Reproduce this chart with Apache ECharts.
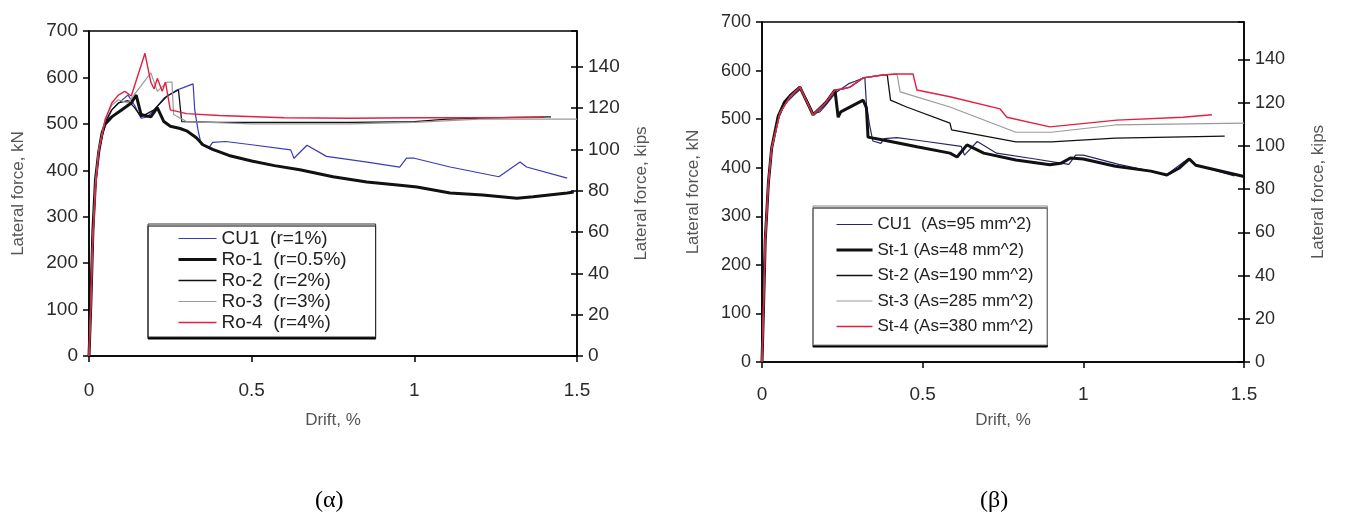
<!DOCTYPE html>
<html><head><meta charset="utf-8">
<script src="https://cdn.jsdelivr.net/npm/echarts@6/dist/echarts.min.js"></script>
<style>html,body{margin:0;padding:0;background:#fff}#c{width:1346px;height:517px}</style>
</head><body><div id="c"></div>
<script>
// ---------- data (drift %, lateral force kN) ----------
const xTicks = [0, 0.5, 1, 1.5];
const kNTicks = [0, 100, 200, 300, 400, 500, 600, 700];
const kipsTicks = [0, 20, 40, 60, 80, 100, 120, 140];
const KN_PER_KIP = 4.4482;

const namesA = ['CU1  (r=1%)', 'Ro-1  (r=0.5%)', 'Ro-2  (r=2%)', 'Ro-3  (r=3%)', 'Ro-4  (r=4%)'];
const namesB = ['CU1  (As=95 mm^2)', 'St-1 (As=48 mm^2)', 'St-2 (As=190 mm^2)', 'St-3 (As=285 mm^2)', 'St-4 (As=380 mm^2)'];

const cu1 = [[0,0],[0.005,120],[0.01,250],[0.02,370],[0.03,440],[0.05,500],[0.07,530],[0.1,550],[0.12,562],[0.14,540],[0.16,512],[0.18,515],[0.2,530],[0.23,555],[0.27,573],[0.29,578],[0.32,586],[0.325,530],[0.335,487],[0.345,455],[0.37,450],[0.38,460],[0.42,462],[0.5,455],[0.62,444],[0.63,426],[0.67,454],[0.73,430],[0.85,418],[0.955,407],[0.976,426],[1.0,426],[1.11,407],[1.26,386],[1.325,418],[1.345,407],[1.47,383]];
const ro1 = [[0,0],[0.006,120],[0.012,270],[0.02,380],[0.03,440],[0.04,480],[0.05,500],[0.07,515],[0.1,530],[0.13,545],[0.145,562],[0.16,520],[0.19,515],[0.21,535],[0.23,505],[0.25,495],[0.28,490],[0.3,485],[0.33,470],[0.35,455],[0.38,445],[0.43,432],[0.5,420],[0.57,410],[0.648,401],[0.75,386],[0.854,375],[0.956,368],[1.008,364],[1.11,351],[1.21,347],[1.315,340],[1.365,343],[1.47,351],[1.49,353]];
const ro2 = [[0,0],[0.006,120],[0.012,260],[0.02,370],[0.03,440],[0.05,505],[0.07,530],[0.09,545],[0.12,550],[0.14,535],[0.16,515],[0.2,530],[0.24,560],[0.275,573],[0.28,570],[0.285,505],[0.4,503],[0.6,503],[0.8,503],[1.0,505],[1.1,510],[1.3,514],[1.42,515]];
const ro3 = [[0,0],[0.006,120],[0.012,260],[0.02,375],[0.03,445],[0.05,510],[0.07,540],[0.09,552],[0.12,545],[0.19,610],[0.21,570],[0.24,590],[0.255,590],[0.26,520],[0.3,505],[0.5,500],[0.8,500],[1.0,503],[1.2,510],[1.5,510]];
const ro4 = [[0,0],[0.005,100],[0.01,230],[0.02,360],[0.03,440],[0.05,510],[0.07,545],[0.09,562],[0.11,570],[0.13,560],[0.172,652],[0.19,590],[0.2,575],[0.21,598],[0.225,570],[0.235,590],[0.25,530],[0.3,522],[0.4,518],[0.6,513],[0.8,512],[1.0,513],[1.2,513],[1.4,514]];

const st1 = [[0,0],[0.005,120],[0.01,250],[0.02,370],[0.03,440],[0.05,505],[0.07,535],[0.09,550],[0.118,566],[0.159,509],[0.2,535],[0.227,560],[0.237,504],[0.245,515],[0.315,539],[0.325,523],[0.33,463],[0.377,457],[0.482,443],[0.585,430],[0.607,422],[0.638,447],[0.69,430],[0.79,416],[0.896,406],[0.93,409],[0.96,420],[1.0,418],[1.1,403],[1.21,393],[1.26,385],[1.3,400],[1.33,418],[1.35,405],[1.5,382]];
const st2 = [[0,0],[0.005,120],[0.01,250],[0.02,370],[0.03,440],[0.056,513],[0.087,546],[0.118,566],[0.159,509],[0.2,535],[0.227,560],[0.25,562],[0.274,566],[0.315,585],[0.377,591],[0.39,590],[0.4,539],[0.45,525],[0.585,492],[0.59,478],[0.79,453],[0.9,453],[1.1,461],[1.44,465]];
const st3 = [[0,0],[0.005,120],[0.01,250],[0.02,370],[0.03,440],[0.056,513],[0.087,546],[0.118,566],[0.159,509],[0.2,535],[0.227,560],[0.25,562],[0.274,566],[0.315,585],[0.377,591],[0.42,593],[0.43,556],[0.585,525],[0.79,473],[0.9,473],[1.1,488],[1.5,492]];
const st4 = [[0,0],[0.005,120],[0.01,250],[0.02,370],[0.03,440],[0.056,513],[0.087,546],[0.118,566],[0.159,509],[0.2,535],[0.227,560],[0.25,562],[0.274,566],[0.315,585],[0.377,591],[0.42,593],[0.47,593],[0.482,560],[0.585,546],[0.741,521],[0.762,504],[0.896,484],[1.105,498],[1.31,504],[1.4,509]];

const captionA = '(α)';
const captionB = '(β)';

// ---------- styling ----------
const FONT = '"Liberation Sans", Arial, sans-serif';
const tickColor = '#2a2a2a';
const titleColor = '#555';
const colorsA = ['#3a3ab8', '#111', '#111', '#9a9a9a', '#e3203f'];
const colorsB = ['#26266e', '#111', '#111', '#9a9a9a', '#e3203f'];
const widths = [1.2, 3, 1.3, 1.2, 1.4];

function xAx(grid, margin, gap) {
  return {
    type: 'value', gridIndex: grid, min: 0, max: 1.5, interval: 0.5,
    name: 'Drift, %', nameLocation: 'middle', nameGap: gap,
    nameTextStyle: {fontFamily: FONT, fontSize: 17, color: titleColor},
    axisLine: {show: true, lineStyle: {color: '#000', width: 1.5}},
    axisTick: {show: true, inside: false, length: 6, lineStyle: {color: '#000', width: 1.5}},
    axisLabel: {fontFamily: FONT, fontSize: 19, color: tickColor, margin: margin,
      formatter: v => xTicks.includes(v) ? String(v) : ''},
    splitLine: {show: false}
  };
}
function yKN(grid, fs, gap) {
  return {
    type: 'value', gridIndex: grid, position: 'left', min: 0, max: 700, interval: 100,
    name: 'Lateral force, kN', nameLocation: 'middle', nameGap: gap, nameRotate: 90,
    nameTextStyle: {fontFamily: FONT, fontSize: 17, color: titleColor},
    axisLine: {show: true, lineStyle: {color: '#000', width: 1.5}},
    axisTick: {show: true, inside: false, length: 6, lineStyle: {color: '#000', width: 1.5}},
    axisLabel: {fontFamily: FONT, fontSize: fs, color: tickColor, margin: 11,
      formatter: v => kNTicks.includes(v) ? String(v) : ''},
    splitLine: {show: false}
  };
}
function yKips(grid, fs, gap) {
  return {
    type: 'value', gridIndex: grid, position: 'right', min: 0, max: 700 / KN_PER_KIP, interval: 20,
    name: 'Lateral force, kips', nameLocation: 'middle', nameGap: gap, nameRotate: 90,
    nameTextStyle: {fontFamily: FONT, fontSize: 17, color: titleColor},
    axisLine: {show: true, lineStyle: {color: '#000', width: 1.5}},
    axisTick: {show: true, inside: false, length: 6, lineStyle: {color: '#000', width: 1.5}},
    axisLabel: {fontFamily: FONT, fontSize: fs, color: tickColor, margin: 11, showMaxLabel: false,
      formatter: v => kipsTicks.includes(Math.round(v * 1000) / 1000) ? String(Math.round(v)) : ''},
    splitLine: {show: false}
  };
}
function yKipsIn(grid) {
  return {
    type: 'value', gridIndex: grid, position: 'right', min: 0, max: 700 / KN_PER_KIP, interval: 20,
    axisLine: {show: false},
    axisTick: {show: true, inside: true, length: 6, lineStyle: {color: '#000', width: 1.5}},
    axisLabel: {show: false}, splitLine: {show: false}
  };
}
function ser(name, data, xi, yi, color, width) {
  return {type: 'line', name, data, xAxisIndex: xi, yAxisIndex: yi, symbol: 'none', showSymbol: false,
    lineStyle: {color, width}, itemStyle: {color}, animation: false, silent: true};
}
function legData(names, colors) {
  return names.map((n, i) => ({name: n, lineStyle: {color: colors[i], width: widths[i]}}));
}

const chart = echarts.init(document.getElementById('c'), null, {renderer: 'canvas'});
chart.setOption({
  animation: false,
  backgroundColor: '#fff',
  grid: [
    {left: 89, right: 1346 - 577, top: 31, bottom: 517 - 356, show: true, borderColor: '#000', borderWidth: 1.5, outerBoundsMode: 'none'},
    {left: 762, right: 1346 - 1244, top: 22, bottom: 517 - 362, show: true, borderColor: '#000', borderWidth: 1.5, outerBoundsMode: 'none'}
  ],
  xAxis: [xAx(0, 25, 56), xAx(1, 23, 50)],
  yAxis: [yKN(0, 19, 62), yKips(0, 19, 56), yKipsIn(0), yKN(1, 18, 60), yKips(1, 18, 66), yKipsIn(1)],
  legend: [
    {data: legData(namesA, colorsA), orient: 'vertical', left: 148, top: 224, itemWidth: 38, itemHeight: 12, itemGap: 2,
     padding: [5, 29, 5, 29], backgroundColor: '#fff', borderColor: '#333', borderWidth: 1,
     shadowColor: '#000', shadowBlur: 0, shadowOffsetX: 0, shadowOffsetY: 2,
     itemStyle: {opacity: 0},
     textStyle: {fontFamily: FONT, fontSize: 19, color: '#222'}, selectedMode: false},
    {data: legData(namesB, colorsB), orient: 'vertical', left: 813, top: 206, itemWidth: 36, itemHeight: 12, itemGap: 8.5,
     padding: [10, 14, 10, 22], backgroundColor: '#fff', borderColor: '#888', borderWidth: 1,
     shadowColor: '#000', shadowBlur: 0, shadowOffsetX: 0, shadowOffsetY: 2,
     itemStyle: {opacity: 0},
     textStyle: {fontFamily: FONT, fontSize: 17, color: '#222'}, selectedMode: false}
  ],
  title: [
    {text: captionA, left: 310, top: 484, textStyle: {fontFamily: '"Liberation Serif", serif', fontSize: 24, fontWeight: 'normal', color: '#000'}},
    {text: captionB, left: 975, top: 484, textStyle: {fontFamily: '"Liberation Serif", serif', fontSize: 24, fontWeight: 'normal', color: '#000'}}
  ],
  series: [
    ser(namesA[0], cu1, 0, 0, colorsA[0], widths[0]),
    ser(namesA[1], ro1, 0, 0, colorsA[1], widths[1]),
    ser(namesA[2], ro2, 0, 0, colorsA[2], widths[2]),
    ser(namesA[3], ro3, 0, 0, colorsA[3], widths[3]),
    ser(namesA[4], ro4, 0, 0, colorsA[4], widths[4]),
    ser(namesB[0], cu1, 1, 3, colorsB[0], widths[0]),
    ser(namesB[1], st1, 1, 3, colorsB[1], widths[1]),
    ser(namesB[2], st2, 1, 3, colorsB[2], widths[2]),
    ser(namesB[3], st3, 1, 3, colorsB[3], widths[3]),
    ser(namesB[4], st4, 1, 3, colorsB[4], widths[4])
  ]
});
</script></body></html>
